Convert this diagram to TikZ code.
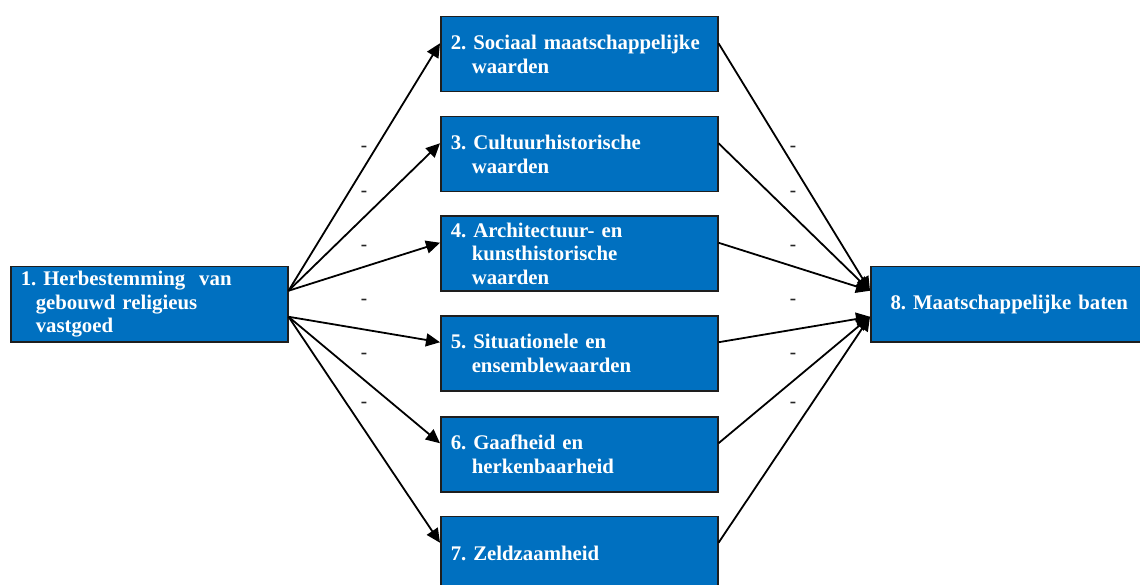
\documentclass[tikz,border=0pt]{standalone}
\usepackage{fontspec}
\setmainfont{Liberation Serif}
\usetikzlibrary{arrows.meta,calc}
\definecolor{boxblue}{RGB}{0,112,192}
\definecolor{boxline}{RGB}{30,30,30}
\tikzset{
  box/.style={draw=boxline, fill=boxblue, line width=1.5pt, minimum width=277pt,
    minimum height=75pt, inner xsep=10pt, inner ysep=0pt, text width=257pt,
    align=left, anchor=north west, text=white,
    font=\fontsize{20.8}{23.5}\selectfont\bfseries},
  arr/.style={line width=1.8pt, -{Triangle[length=14pt,width=13pt]}},
  dashlbl/.style={font=\fontsize{19}{19}\selectfont\bfseries, text=black!85, inner sep=0pt}
}
\begin{document}
\begin{tikzpicture}[x=1pt,y=-1pt]
\useasboundingbox (0,0) rectangle (1140,585);
\clip (0,0) rectangle (1140,585);
\node[box] (b1) at (10,266) {1.~Herbestemming~~van\\\hspace*{15pt}gebouwd religieus\\\hspace*{15pt}vastgoed};
\node[box] (b2) at (440,16) {2.~Sociaal maatschappelijke\\\hspace*{21pt}waarden};
\node[box] (b3) at (440,116) {3.~Cultuurhistorische\\\hspace*{21pt}waarden};
\node[box] (b4) at (440,215.5) {4.~Architectuur- en\\\hspace*{21pt}kunsthistorische\\\hspace*{21pt}waarden};
\node[box] (b5) at (440,315) {5.~Situationele en\\\hspace*{21pt}ensemblewaarden};
\node[box] (b6) at (440,416) {6.~Gaafheid en\\\hspace*{21pt}herkenbaarheid};
\node[box] (b7) at (440,515.5) {7.~Zeldzaamheid};
\node[box, align=center] (b8) at (870,266) {8.~Maatschappelijke baten};
\coordinate (o1) at ($(b1.east)+(0,-13.5)$);
\coordinate (o2) at ($(b1.east)+(0,12.5)$);
\coordinate (i1) at ($(b8.west)+(0,-13.5)$);
\coordinate (i2) at ($(b8.west)+(0,12.5)$);
\foreach \k in {2,3,4} {
  \draw[arr] (o1) -- ($(b\k.west)+(0,-11)$);
  \draw[arr] ($(b\k.east)+(0,-11)$) -- (i1);
}
\foreach \k in {5,6,7} {
  \draw[arr] (o2) -- ($(b\k.west)+(0,-11)$);
  \draw[arr] ($(b\k.east)+(0,-11)$) -- (i2);
}
\foreach \y [count=\n] in {149,194,248,302,356,405} {
  \node[dashlbl] (dl\n) at (364,\y) {-};
  \node[dashlbl] (dr\n) at (793,\y) {-};
}
\end{tikzpicture}
\end{document}
